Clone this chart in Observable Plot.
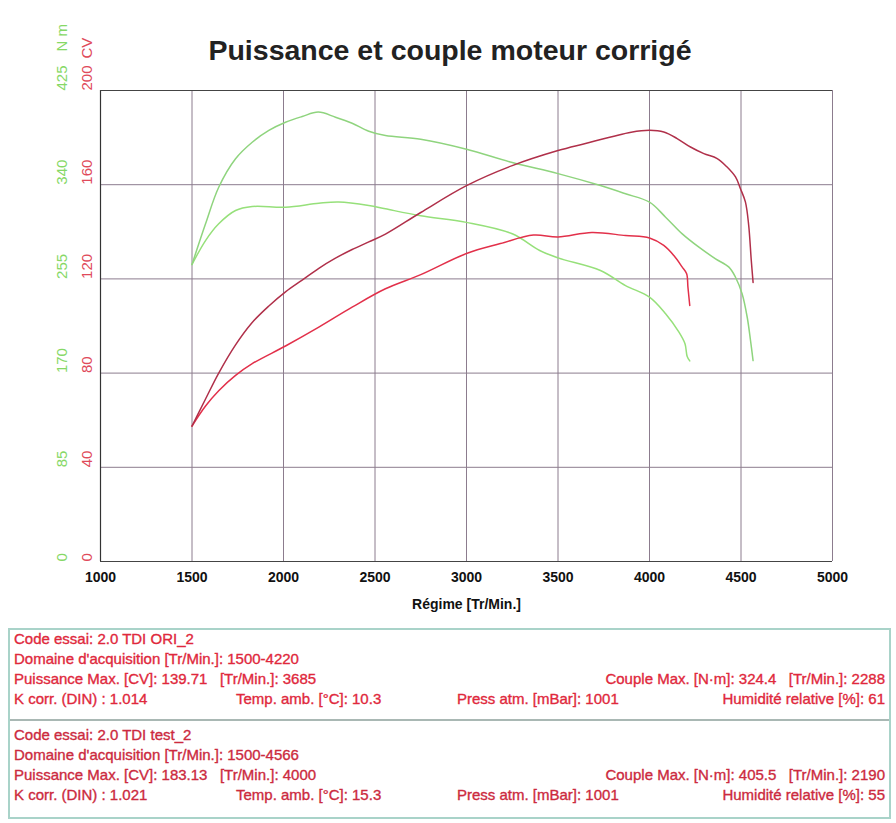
<!DOCTYPE html>
<html><head><meta charset="utf-8">
<script src="https://cdn.jsdelivr.net/npm/d3@7"></script>
<script src="https://cdn.jsdelivr.net/npm/@observablehq/plot@0.6"></script>
<style>
body{margin:0;background:#fff;width:896px;height:823px;position:relative;overflow:hidden;font-family:"Liberation Sans",Arial,sans-serif;}
#chart{position:absolute;left:0;top:0;}
#title{position:absolute;left:0;top:35px;width:900px;height:30px;line-height:30px;text-align:center;font-weight:bold;font-size:28.5px;color:#222;}
#table{position:absolute;left:8px;top:628px;width:879px;height:187px;border:2px solid #a9d3c9;}
#divider{position:absolute;left:0;top:89px;width:879px;height:0;border-top:2px solid #a9b8b4;}
.row{position:absolute;font-size:15px;white-space:pre;line-height:18px;-webkit-text-stroke:0.35px currentColor;}
</style>
</head><body>
<div id="chart"></div>
<div id="title">Puissance et couple moteur corrigé</div>
<div id="table"><div id="divider"></div></div>
<script>
// ---- data ----
const rpmTicks = [1000,1500,2000,2500,3000,3500,4000,4500,5000];
const cvTicks = [0,40,80,120,160,200];
const nmTicks = [0,85,170,255,340,425];
const nmPerCv = 425/200;

// Puissance (CV) - essai ORI
const oriRpmP = [1500,1574,1646,1738,1829,2011,2193,2375,2557,2750,3000,3185,3366,3500,3685,3869,4000,4078,4133,4179,4203,4210,4220];
const oriCv   = [57.5,66,72.5,79,84,91.5,99.5,108,115.8,121.8,130.8,135,138.6,137.8,139.7,138.4,137.4,134.2,129.9,125,122.2,116.5,108.7];
// Puissance (CV) - essai test
const testRpmP = [1500,1574,1646,1738,1829,1920,2011,2102,2193,2284,2375,2466,2557,2750,3000,3250,3500,3650,3800,3900,4000,4078,4151,4224,4297,4370,4424,4470,4497,4524,4542,4556,4566];
const testCv   = [57.5,69,80,92,101.5,108.5,114.5,119.5,124.5,128.8,132.5,135.7,139,148.2,159.6,168.1,174.5,177.5,180.5,182.3,183.1,182.4,179.6,176,173.2,171.1,167.5,163.3,158.3,152.7,142.8,128,118.5];
// Couple (N·m) - essai ORI
const oriRpmT = [1500,1574,1646,1738,1829,2011,2193,2302,2466,2557,2750,3000,3250,3400,3500,3732,3869,4000,4088,4161,4194,4206,4220];
const oriNm   = [268,289.6,304.7,316.7,320.3,319.7,323.3,324.4,321.2,318.2,312,306,295.7,280.6,274,262.6,249,238.5,223.5,206.9,196.4,185,181];
// Couple (N·m) - essai test
const testRpmT = [1500,1574,1646,1738,1829,1920,2011,2102,2190,2284,2375,2466,2557,2750,3000,3250,3500,3732,3869,4000,4088,4179,4270,4361,4434,4470,4506,4534,4552,4566];
const testNm   = [268,304.7,337.7,363.4,378.3,389,396.4,401.5,405.5,400.9,395.5,388.3,384.4,381,372,360,350,339.2,331.8,324.2,310.7,295.6,283.6,273.1,265.6,256.5,241.6,220.4,199.4,181.3];

const block1 = [
  [{t:"Code essai: 2.0 TDI ORI_2", l:4}],
  [{t:"Domaine d'acquisition [Tr/Min.]: 1500-4220", l:4}],
  [{t:"Puissance Max. [CV]: 139.71   [Tr/Min.]: 3685", l:4},{t:"Couple Max. [N·m]: 324.4   [Tr/Min.]: 2288", r:4}],
  [{t:"K corr. (DIN) : 1.014", l:4},{t:"Temp. amb. [°C]: 10.3", l:226},{t:"Press atm. [mBar]: 1001", l:447},{t:"Humidité relative [%]: 61", r:4}]
];
const block2 = [
  [{t:"Code essai: 2.0 TDI test_2", l:4}],
  [{t:"Domaine d'acquisition [Tr/Min.]: 1500-4566", l:4}],
  [{t:"Puissance Max. [CV]: 183.13   [Tr/Min.]: 4000", l:4},{t:"Couple Max. [N·m]: 405.5   [Tr/Min.]: 2190", r:4}],
  [{t:"K corr. (DIN) : 1.021", l:4},{t:"Temp. amb. [°C]: 15.3", l:226},{t:"Press atm. [mBar]: 1001", l:447},{t:"Humidité relative [%]: 55", r:4}]
];

// ---- build ----
const zip = (xs, ys) => xs.map((x,i)=>({rpm:x, v:ys[i]}));
const oriP = zip(oriRpmP, oriCv), testP = zip(testRpmP, testCv);
const oriT = zip(oriRpmT, oriNm), testT = zip(testRpmT, testNm);

const grid = "#8c7c8e", red = "#e04a5a", green = "#86d866";
const font = "Liberation Sans, Arial, sans-serif";

const chart = Plot.plot({
  width: 896, height: 620,
  marginLeft: 100, marginRight: 64, marginTop: 90, marginBottom: 59,
  style: {fontFamily: font, overflow: "visible", background: "transparent"},
  x: {domain: [1000, 5000], axis: null},
  y: {domain: [0, 200], axis: null},
  marks: [
    Plot.ruleX(rpmTicks, {stroke: grid, strokeWidth: 1}),
    Plot.ruleY(cvTicks, {stroke: grid, strokeWidth: 1}),
    Plot.ruleX([1000], {stroke: "#333", strokeWidth: 1.2}),
    Plot.ruleY([0, 200], {stroke: "#444", strokeWidth: 1.2}),
    Plot.line(oriT, {x: "rpm", y: d => d.v / nmPerCv, stroke: "#96e07a", strokeWidth: 1.5, curve: "catmull-rom"}),
    Plot.line(testT, {x: "rpm", y: d => d.v / nmPerCv, stroke: "#8fd47e", strokeWidth: 1.5, curve: "catmull-rom"}),
    Plot.line(oriP, {x: "rpm", y: "v", stroke: "#e2304a", strokeWidth: 1.5, curve: "catmull-rom"}),
    Plot.line(testP, {x: "rpm", y: "v", stroke: "#b0304a", strokeWidth: 1.5, curve: "catmull-rom"}),
    Plot.axisX(rpmTicks, {tickSize: 0, tickPadding: 11, fontWeight: "bold", fontSize: 14, fill: "#111", label: null, tickFormat: d => String(d)}),
    Plot.text(["Régime [Tr/Min.]"], {frameAnchor: "bottom", dy: 47, text: d => d, fontWeight: "bold", fontSize: 14, fill: "#111"}),
    Plot.text(cvTicks, {y: d => d, frameAnchor: "left", dx: -13, rotate: -90, text: d => String(d), fill: red, fontSize: 15}),
    Plot.text(nmTicks, {y: d => d / nmPerCv, frameAnchor: "left", dx: -38, rotate: -90, text: d => String(d), fill: green, fontSize: 15}),
    Plot.text([{v: 200, t: "CV"}], {y: "v", text: "t", frameAnchor: "left", dx: -13, dy: -32, rotate: -90, fill: red, fontSize: 15}),
    Plot.text([{v: 200, t: "N m"}], {y: "v", text: "t", frameAnchor: "left", dx: -38, dy: -39, rotate: -90, fill: green, fontSize: 15})
  ]
});
document.getElementById("chart").appendChild(chart);

const table = document.getElementById("table");
function addBlock(block, top, color) {
  block.forEach((row, i) => {
    row.forEach(cell => {
      const s = document.createElement("div");
      s.className = "row";
      s.textContent = cell.t;
      s.style.top = (top + i * 20) + "px";
      s.style.color = color;
      if (cell.r !== undefined) s.style.right = cell.r + "px"; else s.style.left = cell.l + "px";
      table.appendChild(s);
    });
  });
}
addBlock(block1, 0, "#e0283c");
addBlock(block2, 96, "#cc2a3e");
</script>
</body></html>
